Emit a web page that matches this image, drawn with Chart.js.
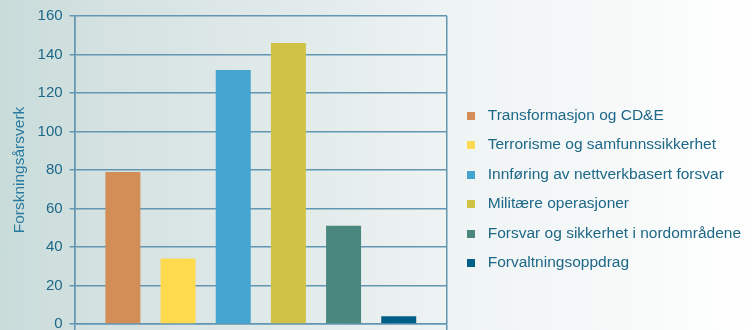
<!DOCTYPE html>
<html>
<head>
<meta charset="utf-8">
<script src="https://cdn.jsdelivr.net/npm/chart.js@4/dist/chart.umd.min.js"></script>
<style>
  html, body { margin: 0; padding: 0; }
  body {
    width: 753px; height: 330px; overflow: hidden;
    background: linear-gradient(to right, #c8dcda 0%, #d3e1e0 12%, #e2ebea 40%, #eef3f3 60%, #f8fafa 85%, #ffffff 100%);
  }
  #wrap { position: relative; width: 753px; height: 330px; }
</style>
</head>
<body>
<div id="wrap"><canvas id="chart"></canvas></div>
<script>
const seriesNames = [
  'Transformasjon og CD&E',
  'Terrorisme og samfunnssikkerhet',
  'Innføring av nettverkbasert forsvar',
  'Militære operasjoner',
  'Forsvar og sikkerhet i nordområdene',
  'Forvaltningsoppdrag'
]
const seriesValues = [79, 34, 132, 146, 51, 4]
const seriesColors = ['#d28e56', '#fedb4e', '#45a5d0', '#cfc245', '#4a877f', '#005f87']
const yTitle = 'Forskningsårsverk'

const gridColor = '#6396b3'
const textColor = '#1d6787'
const fontFamily = "'Liberation Sans', Arial, sans-serif"

// small square used as the legend marker
const swatch = (color) => {
  const c = document.createElement('canvas')
  c.width = 8
  c.height = 8
  const g = c.getContext('2d')
  g.fillStyle = color
  g.fillRect(0, 0, 8, 8)
  return c
}

const legendWidth = {
  id: 'legendWidth',
  beforeInit(chart) {
    const legend = chart.legend
    if (!legend) return
    const origFit = legend.fit.bind(legend)
    legend.fit = function () {
      origFit()
      this.width = 306
    }
  },
}

new Chart(document.getElementById('chart'), {
  type: 'bar',
  data: {
    labels: [''],
    datasets: seriesNames.map((name, i) => ({
      label: name,
      data: [seriesValues[i]],
      backgroundColor: seriesColors[i],
      pointStyle: swatch(seriesColors[i]),
      categoryPercentage: 0.889,
      barPercentage: 0.634,
    })),
  },
  options: {
    responsive: true,
    maintainAspectRatio: false,
    animation: false,
    layout: { padding: { top: 15.5, left: 4, right: 0, bottom: 0 } },
    plugins: {
      tooltip: { enabled: false },
      legend: {
        position: 'right',
        title: { display: true, text: ' ', padding: { top: 19, bottom: 0 } },
        labels: {
          usePointStyle: true,
          pointStyleWidth: 19,
          boxHeight: 8,
          padding: 14,
          color: textColor,
          font: { family: fontFamily, size: 15.5 },
        },
      },
    },
    scales: {
      x: {
        ticks: { display: false },
        grid: { color: gridColor, lineWidth: 1.5, tickLength: 6 },
        border: { color: gridColor, width: 1.5 },
      },
      y: {
        min: 0,
        max: 160,
        ticks: {
          stepSize: 20,
          padding: 7,
          color: textColor,
          font: { family: fontFamily, size: 15 },
        },
        grid: { color: gridColor, lineWidth: 1.5, tickLength: 5 },
        border: { color: gridColor, width: 1.5 },
        title: {
          display: true,
          text: yTitle,
          color: '#2a7aa0',
          font: { family: fontFamily, size: 15.5 },
          padding: { top: 6, bottom: 2 },
        },
        afterFit(scale) {
          scale.paddingBottom = 5
        },
      },
    },
  },
  plugins: [legendWidth],
})
</script>
</body>
</html>
